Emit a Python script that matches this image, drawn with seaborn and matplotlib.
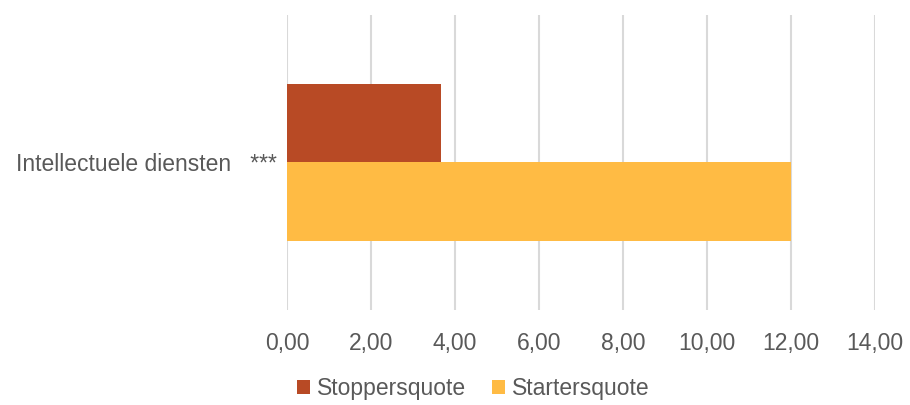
import numpy as np
import pandas as pd
import matplotlib
matplotlib.use("Agg")
import matplotlib.pyplot as plt
import seaborn as sns
from matplotlib.ticker import FuncFormatter
from matplotlib.patches import Patch

# -------------------------------------------------
# Data
# -------------------------------------------------

categories = ["Intellectuele diensten   ***"]
series = ["Stoppersquote", "Startersquote"]
stoppers = [3.66]
starters = [12.0]
colors = ["#B84A25", "#FFBB44"]

df = pd.DataFrame({
    "categorie": categories * 2,
    "reeks": [series[0]] * len(categories) + [series[1]] * len(categories),
    "waarde": stoppers + starters,
})

# -------------------------------------------------
# Plot
# -------------------------------------------------

sns.set_style("white")
plt.rcParams["font.family"] = ["Liberation Sans", "DejaVu Sans"]
text_color = "#595959"
fs = 16.5

fig = plt.figure(figsize=(9.1, 4.05), dpi=100)
ax = fig.add_axes([0.3154, 0.2346, 0.6462, 0.7284])

sns.barplot(
    data=df, x="waarde", y="categorie", hue="reeks",
    hue_order=series, palette=colors, orient="h",
    width=0.53, saturation=1, legend=False, linewidth=0, ax=ax
)

ax.set_xlim(0, 14)
ax.set_ylim(0.5, -0.5)
ax.set_xticks(np.arange(0, 15, 2))
ax.xaxis.set_major_formatter(FuncFormatter(lambda v, p: f"{v:.2f}".replace(".", ",")))
ax.grid(axis="x", color="#D9D9D9", linewidth=1.5)
ax.set_axisbelow(True)
for s in ax.spines.values():
    s.set_visible(False)

ax.set_xlabel("")
ax.set_ylabel("")
ax.tick_params(axis="x", length=0, pad=16, labelsize=fs, labelcolor=text_color)
ax.tick_params(axis="y", length=0, pad=7, labelsize=fs, labelcolor=text_color)

handles = [Patch(facecolor=c, edgecolor="none") for c in colors]
fig.legend(
    handles, series, loc="center", bbox_to_anchor=(0.52, 0.04),
    ncol=2, frameon=False, fontsize=fs, labelcolor=text_color,
    handlelength=0.6, handleheight=0.6, handletextpad=0.3, columnspacing=1.1
)

fig.savefig("out.png", dpi=100)
plt.close(fig)
